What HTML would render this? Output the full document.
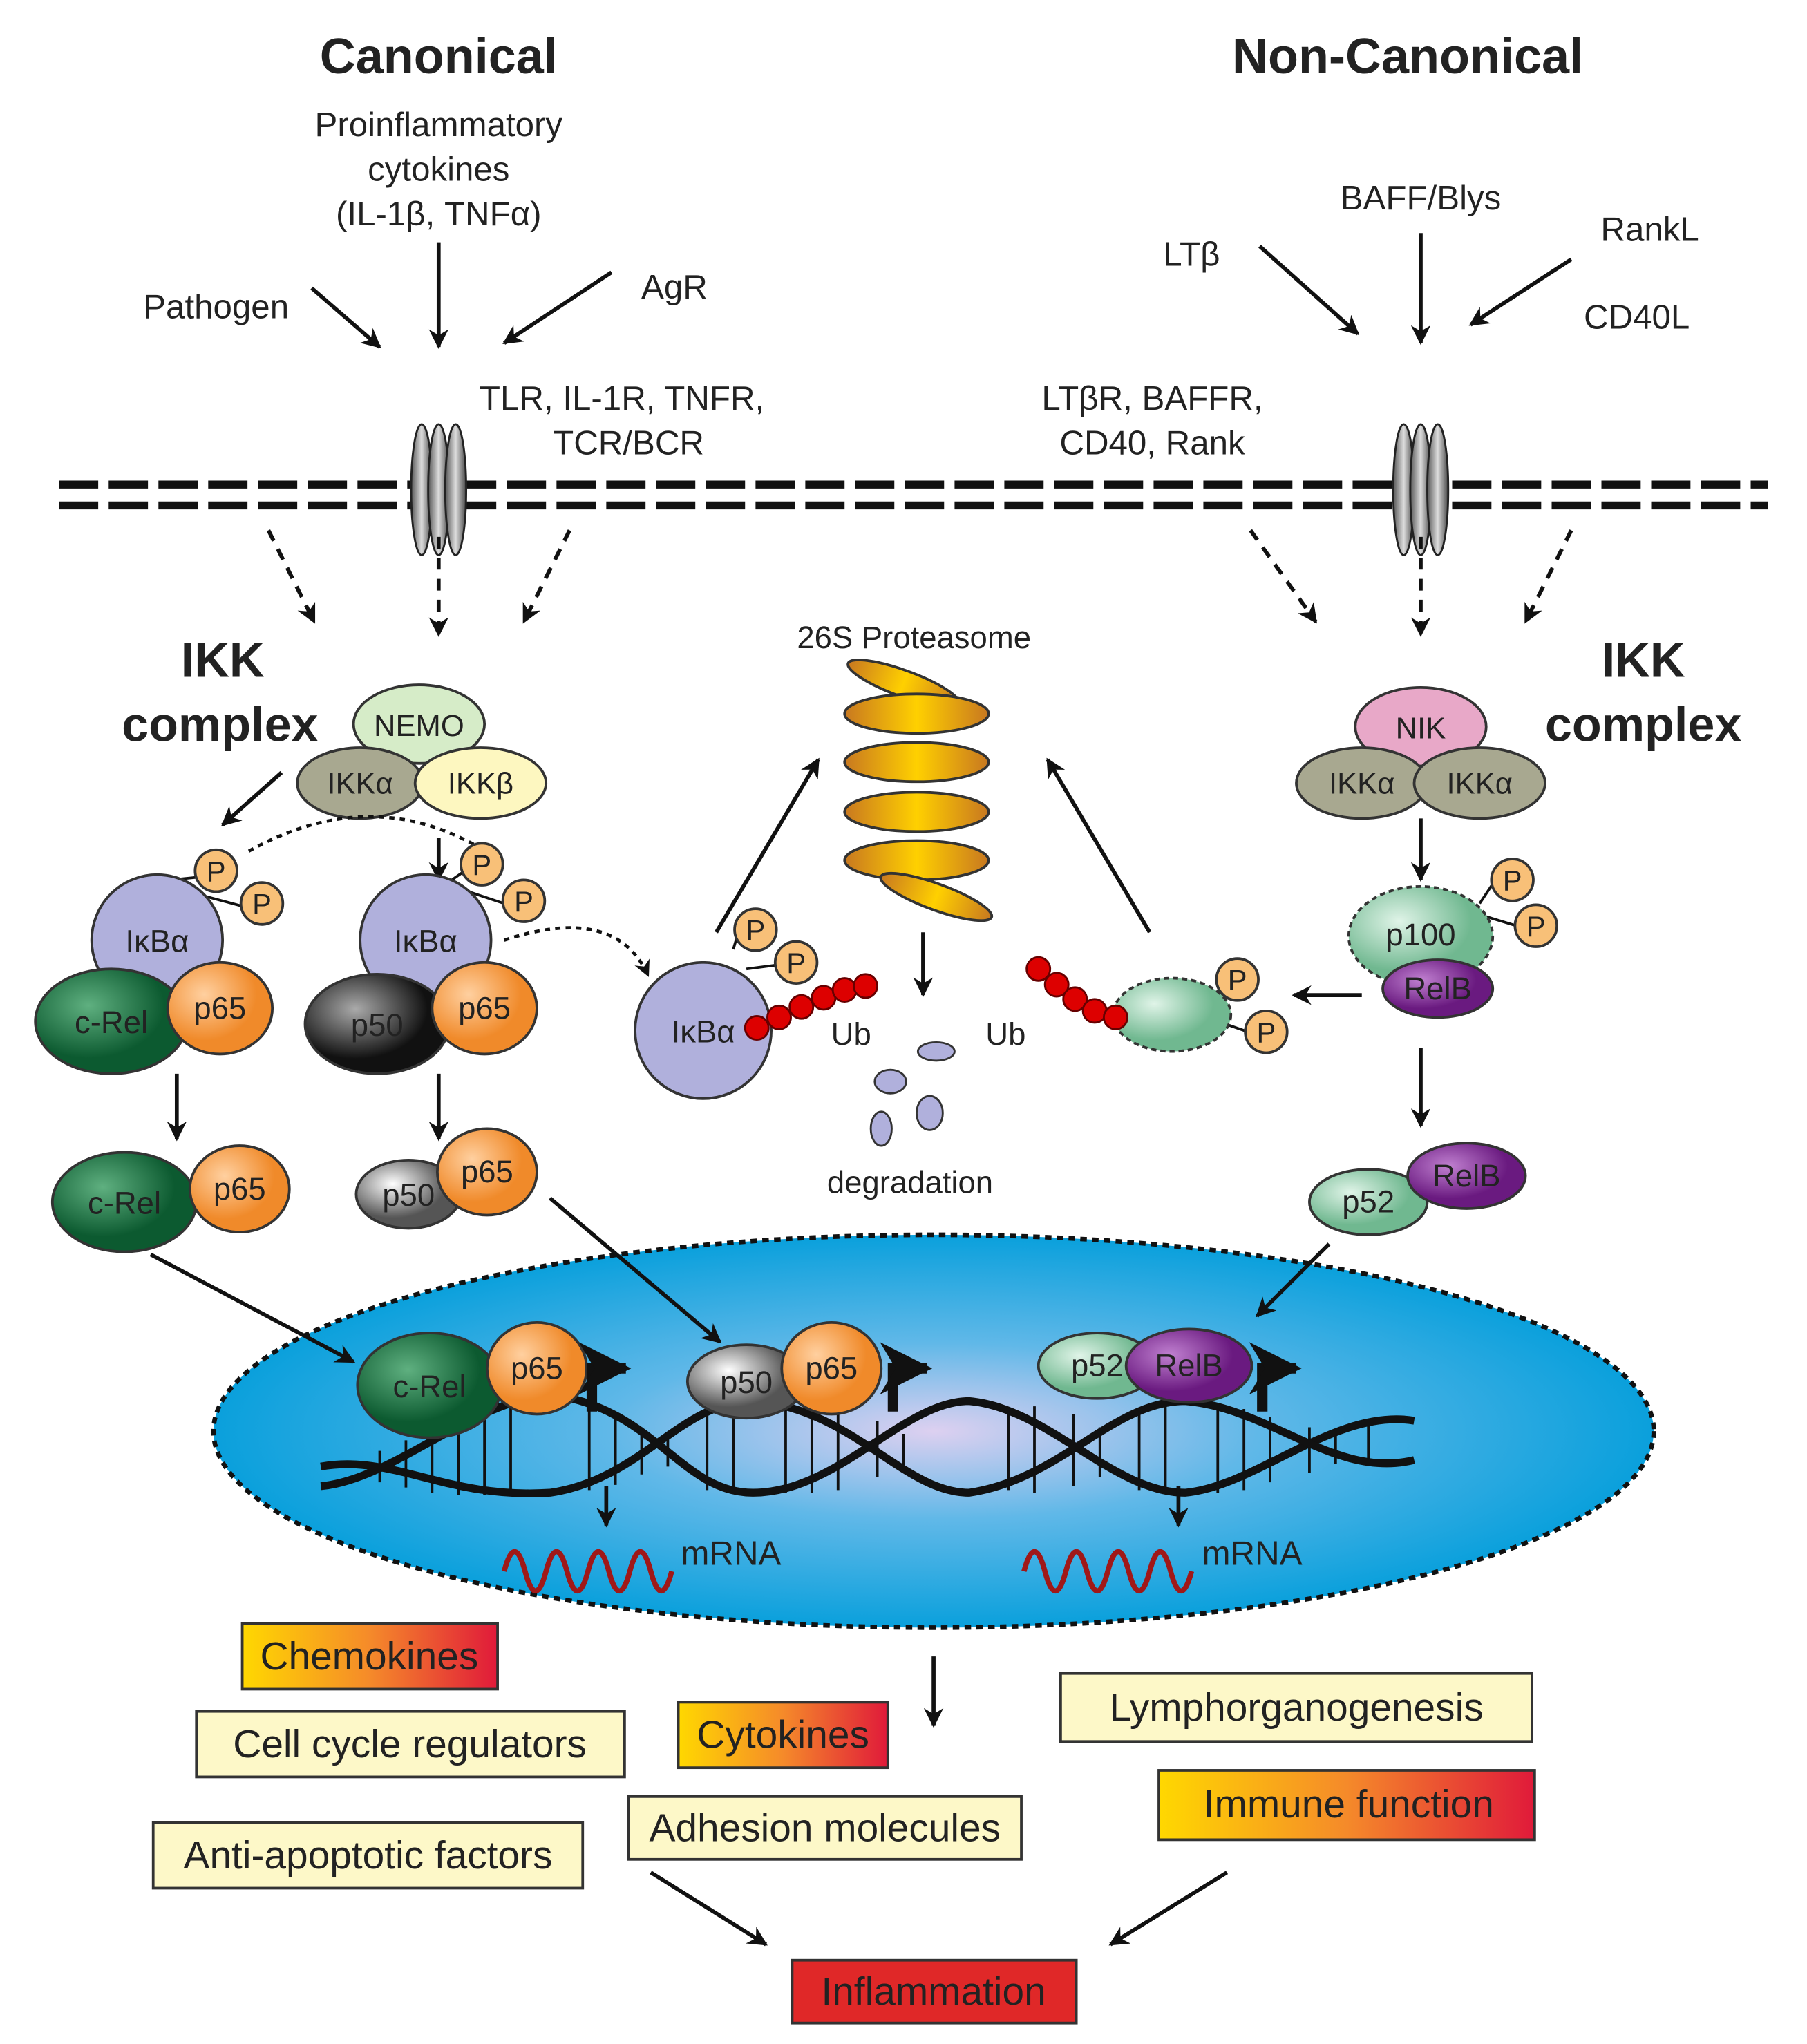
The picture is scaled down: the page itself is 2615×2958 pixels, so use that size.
<!DOCTYPE html>
<html><head><meta charset="utf-8"><style>
html,body{margin:0;padding:0;background:#fff}
svg{display:block}
text{font-family:"Liberation Sans",sans-serif;fill:#222}
</style></head><body>
<svg width="2615" height="2958" viewBox="0 0 1380 1561" xmlns="http://www.w3.org/2000/svg">
<defs>
<marker id="ah" viewBox="0 0 10 10" refX="9" refY="5" markerWidth="5" markerHeight="5" orient="auto"><path d="M0,0L10,5L0,10L3,5z" fill="#111"/></marker>
<linearGradient id="rec" x1="0" x2="1"><stop offset="0" stop-color="#555"/><stop offset=".5" stop-color="#ddd"/><stop offset="1" stop-color="#444"/></linearGradient>
<linearGradient id="hot" x1="0" x2="1"><stop offset="0" stop-color="#ffd800"/><stop offset=".5" stop-color="#f58a2a"/><stop offset="1" stop-color="#e01a3a"/></linearGradient>
<linearGradient id="prot" x1="0" x2="1"><stop offset="0" stop-color="#c87820"/><stop offset=".5" stop-color="#ffd000"/><stop offset="1" stop-color="#c87820"/></linearGradient>
<radialGradient id="nuc" cx=".5" cy=".5" r=".5"><stop offset="0" stop-color="#ddd0f0"/><stop offset=".45" stop-color="#60b8e8"/><stop offset="1" stop-color="#0aa0dc"/></radialGradient>
<radialGradient id="grn" cx=".35" cy=".35"><stop offset="0" stop-color="#5fb080"/><stop offset="1" stop-color="#0c5a30"/></radialGradient>
<radialGradient id="org" cx=".35" cy=".35"><stop offset="0" stop-color="#ffd0a0"/><stop offset="1" stop-color="#f08a2a"/></radialGradient>
<radialGradient id="blk" cx=".35" cy=".35"><stop offset="0" stop-color="#aaa"/><stop offset="1" stop-color="#111"/></radialGradient>
<radialGradient id="gry" cx=".35" cy=".35"><stop offset="0" stop-color="#fff"/><stop offset="1" stop-color="#555"/></radialGradient>
<radialGradient id="pur" cx=".35" cy=".35"><stop offset="0" stop-color="#c080d0"/><stop offset="1" stop-color="#6a1a80"/></radialGradient>
<radialGradient id="lgr" cx=".35" cy=".35"><stop offset="0" stop-color="#e0f4e8"/><stop offset="1" stop-color="#70b890"/></radialGradient>
</defs>
<g font-size="26" text-anchor="middle">
<text x="335" y="56" font-size="38" font-weight="bold" fill="#111">Canonical</text>
<text x="1075" y="56" font-size="38" font-weight="bold" fill="#111">Non-Canonical</text>
<text x="335" y="104">Proinflammatory</text><text x="335" y="138">cytokines</text><text x="335" y="172">(IL-1β, TNFα)</text>
<text x="165" y="243">Pathogen</text><text x="515" y="228">AgR</text>
<text x="475" y="313">TLR, IL-1R, TNFR,</text><text x="480" y="347">TCR/BCR</text>
<text x="910" y="203">LTβ</text><text x="1085" y="160">BAFF/Blys</text><text x="1260" y="184">RankL</text><text x="1250" y="251">CD40L</text>
<text x="880" y="313">LTβR, BAFFR,</text><text x="880" y="347">CD40, Rank</text>
</g>
<g stroke="#111" stroke-width="3" fill="none" marker-end="url(#ah)">
<path d="M238,220L290,265"/><path d="M335,185L335,265"/><path d="M467,208L385,262"/>
<path d="M962,188L1037,255"/><path d="M1085,178L1085,262"/><path d="M1200,198L1123,248"/>
</g>
<g stroke="#111" stroke-width="6" stroke-dasharray="30 8"><path d="M45,370H1350"/><path d="M45,386H1350"/></g>
<g stroke="#222" stroke-width="1.5" fill="url(#rec)">
<ellipse cx="322" cy="374" rx="8" ry="50"/><ellipse cx="335" cy="374" rx="8" ry="50"/><ellipse cx="348" cy="374" rx="8" ry="50"/>
<ellipse cx="1072" cy="374" rx="8" ry="50"/><ellipse cx="1085" cy="374" rx="8" ry="50"/><ellipse cx="1098" cy="374" rx="8" ry="50"/>
</g>
<g stroke="#111" stroke-width="3" fill="none" stroke-dasharray="9 7" marker-end="url(#ah)">
<path d="M205,405L240,475"/><path d="M335,410L335,485"/><path d="M435,405L400,475"/>
<path d="M955,405L1005,475"/><path d="M1085,410L1085,485"/><path d="M1200,405L1165,475"/>
</g>
<g font-size="37" font-weight="bold" text-anchor="middle" fill="#111">
<text x="170" y="517">IKK</text><text x="168" y="566">complex</text>
<text x="1255" y="517">IKK</text><text x="1255" y="566">complex</text>
</g>
<g stroke="#333" stroke-width="2">
<ellipse cx="320" cy="553" rx="50" ry="30" fill="#d6ecc8"/>
<ellipse cx="275" cy="598" rx="48" ry="27" fill="#a8a890"/>
<ellipse cx="367" cy="598" rx="50" ry="27" fill="#fdf7c0"/>
<ellipse cx="1085" cy="555" rx="50" ry="30" fill="#e8a8c8"/>
<ellipse cx="1040" cy="598" rx="50" ry="27" fill="#a8a890"/>
<ellipse cx="1130" cy="598" rx="50" ry="27" fill="#a8a890"/>
</g>
<g font-size="23" text-anchor="middle">
<text x="320" y="562">NEMO</text><text x="275" y="606">IKKα</text><text x="367" y="606">IKKβ</text>
<text x="1085" y="564">NIK</text><text x="1040" y="606">IKKα</text><text x="1130" y="606">IKKα</text>
</g>
<g stroke="#111" stroke-width="3" fill="none" marker-end="url(#ah)">
<path d="M215,590L170,630"/><path d="M335,640L335,672"/><path d="M1085,625L1085,672"/>
<path d="M135,820L135,870"/><path d="M335,820L335,870"/><path d="M1085,800L1085,860"/>
<path d="M547,712L625,580"/><path d="M878,712L800,580"/><path d="M705,712L705,760"/>
<path d="M1040,760L988,760"/>
</g>
<g stroke="#111" stroke-width="2.5" fill="none" stroke-dasharray="4 4">
<path d="M190,650Q280,600 362,645"/>
<path d="M385,718Q470,690 495,745" marker-end="url(#ah)"/>
</g>
<g stroke="#111" stroke-width="2"><path d="M130,672L150,670M140,680L185,692M345,672L355,665M355,680L385,690M560,725L563,715M570,740L593,737M930,770L935,755M930,780L953,788M1130,690L1140,675M1135,700L1158,707"/></g>
<g stroke="#333" stroke-width="2">
<circle cx="120" cy="718" r="50" fill="#b0b0dc"/>
<ellipse cx="85" cy="780" rx="58" ry="40" fill="url(#grn)"/>
<ellipse cx="168" cy="770" rx="40" ry="35" fill="url(#org)"/>
<circle cx="325" cy="718" r="50" fill="#b0b0dc"/>
<ellipse cx="288" cy="782" rx="55" ry="38" fill="url(#blk)"/>
<ellipse cx="370" cy="770" rx="40" ry="35" fill="url(#org)"/>
<ellipse cx="95" cy="918" rx="55" ry="38" fill="url(#grn)"/>
<ellipse cx="183" cy="908" rx="38" ry="33" fill="url(#org)"/>
<ellipse cx="312" cy="912" rx="40" ry="26" fill="url(#gry)"/>
<ellipse cx="372" cy="895" rx="38" ry="33" fill="url(#org)"/>
<circle cx="537" cy="787" r="52" fill="#b0b0dc"/>
<ellipse cx="895" cy="775" rx="45" ry="28" fill="url(#lgr)" stroke-dasharray="4 3"/>
<ellipse cx="1085" cy="715" rx="55" ry="38" fill="url(#lgr)" stroke-dasharray="4 3"/>
<ellipse cx="1098" cy="755" rx="42" ry="22" fill="url(#pur)"/>
<ellipse cx="1045" cy="918" rx="45" ry="25" fill="url(#lgr)"/>
<ellipse cx="1120" cy="898" rx="45" ry="25" fill="url(#pur)"/>
</g>
<g stroke="#333" stroke-width="2" fill="#f8c078">
<circle cx="165" cy="665" r="16"/><circle cx="200" cy="690" r="16"/>
<circle cx="368" cy="660" r="16"/><circle cx="400" cy="688" r="16"/>
<circle cx="577" cy="710" r="16"/><circle cx="608" cy="735" r="16"/>
<circle cx="945" cy="748" r="16"/><circle cx="967" cy="788" r="16"/>
<circle cx="1155" cy="672" r="16"/><circle cx="1173" cy="707" r="16"/>
</g>
<g fill="#dd0000" stroke="#600" stroke-width="1.5">
<circle cx="578" cy="785" r="9"/><circle cx="595" cy="777" r="9"/><circle cx="612" cy="769" r="9"/><circle cx="629" cy="762" r="9"/><circle cx="645" cy="756" r="9"/><circle cx="661" cy="753" r="9"/>
<circle cx="793" cy="740" r="9"/><circle cx="807" cy="752" r="9"/><circle cx="821" cy="763" r="9"/><circle cx="836" cy="772" r="9"/><circle cx="852" cy="777" r="9"/>
</g>
<g font-size="22" text-anchor="middle" fill="#222">
<text x="165" y="673">P</text><text x="200" y="698">P</text><text x="368" y="668">P</text><text x="400" y="696">P</text>
<text x="577" y="718">P</text><text x="608" y="743">P</text><text x="945" y="756">P</text><text x="967" y="796">P</text>
<text x="1155" y="680">P</text><text x="1173" y="715">P</text>
</g>
<g font-size="24" text-anchor="middle">
<text x="120" y="727">IκBα</text><text x="325" y="727">IκBα</text><text x="537" y="796">IκBα</text>
<text x="85" y="789" fill="#ddd">c-Rel</text><text x="168" y="778">p65</text>
<text x="288" y="791" fill="#eee">p50</text><text x="370" y="778">p65</text>
<text x="95" y="927" fill="#ddd">c-Rel</text><text x="183" y="916">p65</text>
<text x="312" y="921">p50</text><text x="372" y="903">p65</text>
<text x="1085" y="722">p100</text><text x="1098" y="763" fill="#eee">RelB</text>
<text x="1045" y="926">p52</text><text x="1120" y="906" fill="#eee">RelB</text>
<text x="650" y="798">Ub</text><text x="768" y="798">Ub</text>
<text x="698" y="495">26S Proteasome</text><text x="695" y="911">degradation</text>
</g>
<g stroke="#333" stroke-width="2" fill="url(#prot)">
<ellipse cx="690" cy="522" rx="45" ry="10" transform="rotate(20 690 522)"/>
<ellipse cx="700" cy="545" rx="55" ry="15"/><ellipse cx="700" cy="582" rx="55" ry="15"/><ellipse cx="700" cy="620" rx="55" ry="15"/><ellipse cx="700" cy="657" rx="55" ry="15"/>
<ellipse cx="715" cy="685" rx="45" ry="10" transform="rotate(20 715 685)"/>
</g>
<g fill="#b0b0dc" stroke="#333" stroke-width="1.5">
<ellipse cx="715" cy="803" rx="14" ry="7"/><ellipse cx="680" cy="826" rx="12" ry="9"/><ellipse cx="710" cy="850" rx="10" ry="13"/><ellipse cx="673" cy="862" rx="8" ry="13"/>
</g>
<!-- nucleus -->
<ellipse cx="713" cy="1093" rx="550" ry="150" fill="url(#nuc)" stroke="#111" stroke-width="3.5" stroke-dasharray="5 4"/>
<g stroke="#111" stroke-width="3" fill="none" marker-end="url(#ah)">
<path d="M115,958L270,1040"/><path d="M420,915L550,1025"/><path d="M1015,950L960,1005"/>
</g>
<g stroke="#111" stroke-width="2">
<path d="M290,1108V1132M310,1100V1136M330,1092V1140M350,1085V1142M370,1080V1142M390,1074V1142M450,1075V1138M470,1082V1134M490,1090V1126M510,1098V1120M540,1076V1138M560,1072V1140M600,1070V1140M620,1072V1140M640,1075V1138M670,1085V1128M690,1095V1120M770,1078V1138M790,1074V1140M820,1080V1135M840,1090V1128M870,1078V1138M890,1072V1140M930,1072V1140M950,1076V1138M970,1082V1132M1000,1090V1125M1020,1095V1118M1045,1085V1118"/>
</g>
<g stroke="#111" stroke-width="6" fill="none">
<path d="M245,1135 C300,1130 360,1070 420,1065 C500,1075 520,1140 575,1140 C640,1140 690,1070 740,1070 C800,1075 850,1140 905,1140 C960,1135 1020,1075 1080,1085"/>
<path d="M245,1120 C300,1110 340,1145 420,1140 C490,1130 520,1070 575,1070 C650,1075 690,1140 740,1140 C810,1130 850,1070 905,1070 C970,1075 1020,1130 1080,1115"/>
</g>
<g stroke="#333" stroke-width="2">
<ellipse cx="328" cy="1058" rx="55" ry="40" fill="url(#grn)"/>
<ellipse cx="410" cy="1045" rx="38" ry="35" fill="url(#org)"/>
<ellipse cx="570" cy="1055" rx="45" ry="28" fill="url(#gry)"/>
<ellipse cx="635" cy="1045" rx="38" ry="35" fill="url(#org)"/>
<ellipse cx="838" cy="1043" rx="45" ry="25" fill="url(#lgr)"/>
<ellipse cx="908" cy="1043" rx="48" ry="28" fill="url(#pur)"/>
</g>
<g font-size="24" text-anchor="middle">
<text x="328" y="1067" fill="#ddd">c-Rel</text><text x="410" y="1053">p65</text>
<text x="570" y="1064">p50</text><text x="635" y="1053">p65</text>
<text x="838" y="1051">p52</text><text x="908" y="1051" fill="#eee">RelB</text>
</g>
<g stroke="#111" stroke-width="8" fill="none" marker-end="url(#ah)">
<path d="M452,1078V1045H478"/><path d="M682,1078V1045H708"/><path d="M964,1078V1045H990"/>
</g>
<g stroke="#111" stroke-width="3" fill="none" marker-end="url(#ah)">
<path d="M463,1135V1165"/><path d="M900,1135V1165"/><path d="M713,1265V1318"/>
<path d="M497,1430L585,1485"/><path d="M937,1430L848,1485"/>
</g>
<g stroke="#a01818" stroke-width="4" fill="none">
<path d="M385,1200 q8,-30 16,0 t16,0 t16,0 t16,0 t16,0 t16,0 t16,0 t16,0"/>
<path d="M782,1200 q8,-30 16,0 t16,0 t16,0 t16,0 t16,0 t16,0 t16,0 t16,0"/>
</g>
<g font-size="26"><text x="520" y="1195">mRNA</text><text x="918" y="1195">mRNA</text></g>
<g stroke="#333" stroke-width="2">
<rect x="185" y="1240" width="195" height="50" fill="url(#hot)"/>
<rect x="150" y="1307" width="327" height="50" fill="#fdf8c8"/>
<rect x="518" y="1300" width="160" height="50" fill="url(#hot)"/>
<rect x="480" y="1372" width="300" height="48" fill="#fdf8c8"/>
<rect x="117" y="1392" width="328" height="50" fill="#fdf8c8"/>
<rect x="810" y="1278" width="360" height="52" fill="#fdf8c8"/>
<rect x="885" y="1352" width="287" height="53" fill="url(#hot)"/>
<rect x="605" y="1497" width="217" height="48" fill="#e02828"/>
</g>
<g font-size="30" text-anchor="middle" fill="#222">
<text x="282" y="1275">Chemokines</text>
<text x="313" y="1342">Cell cycle regulators</text>
<text x="598" y="1335">Cytokines</text>
<text x="630" y="1406">Adhesion molecules</text>
<text x="281" y="1427">Anti-apoptotic factors</text>
<text x="990" y="1314">Lymphorganogenesis</text>
<text x="1030" y="1388">Immune function</text>
<text x="713" y="1531" fill="#fde">Inflammation</text>
</g>
</svg>
</body></html>
